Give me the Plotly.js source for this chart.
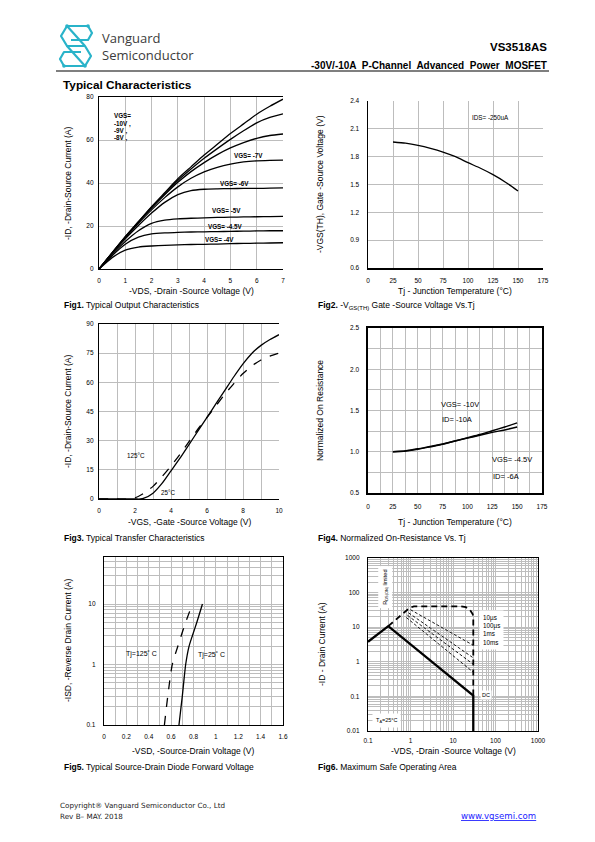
<!DOCTYPE html>
<html><head><meta charset="utf-8">
<script src="https://cdn.plot.ly/plotly-3.0.1.min.js"></script>
<style>
html,body{margin:0;padding:0;background:#fff;}
#wrap{position:relative;width:595px;height:842px;}
#chart{width:595px;height:842px;}
#logo{position:absolute;left:57px;top:23px;}
</style>
</head><body>
<div id="wrap">
<div id="chart"></div>
<svg id="logo" width="38" height="46" viewBox="0 0 38 46">
  <g fill="none" stroke="#29b3c9" stroke-width="2.2" stroke-linejoin="round">
    <path d="M31,3 L10,3 L4,13 L10,23 L28,23 L34,33 L28,43 L7,43"/>
    <path d="M31,3 L35,10 L31,17 L14,17"/>
    <path d="M7,43 L3,36 L7,29 L24,29"/>
    <path d="M10,3 L28,23"/>
    <path d="M10,23 L28,43"/>
  </g>
  <g fill="#29b3c9">
    <circle cx="10" cy="3" r="1.8"/><circle cx="31" cy="3" r="1.8"/>
    <circle cx="7" cy="43" r="1.8"/><circle cx="28" cy="43" r="1.8"/>
  </g>
</svg>
</div>
<script>
// ---------- DATA ----------
// Fig1 Output characteristics
const f1VDS = [0,0.5,1,1.5,2,2.5,3,3.5,4,4.5,5,5.5,6,6.5,7];
const f1ID_10 = [0,7.5,15,22,29,35.5,42,47.5,53,58,63,67.5,72,75.7,79];
const f1ID_9  = [0,7.5,15,22,28.8,35,41.2,46.5,51.5,56,60.3,64.3,68,70.5,72.2];
const f1ID_8  = [0,7.5,14.8,21.7,28.3,34.5,40.3,45.3,49.5,53.2,56.3,58.8,60.8,62.1,62.8];
const f1ID_7  = [0,7.5,14.5,21.2,27.5,33.2,38.2,42.2,45.2,47.3,48.8,49.8,50.3,50.5,50.6];
const f1ID_6  = [0,7.3,14,20.2,26,31,34.6,36.5,37.1,37.3,37.4,37.5,37.5,37.6,37.7];
const f1ID_5  = [0,6.8,12.8,17.8,21.2,22.7,23.3,23.6,23.8,24.0,24.1,24.2,24.3,24.4,24.5];
const f1ID_45 = [0,6.2,11.5,14.8,16.3,16.8,17.0,17.2,17.3,17.4,17.5,17.6,17.7,17.8,17.8];
const f1ID_4  = [0,5.3,8.8,10.2,10.7,11.0,11.2,11.4,11.5,11.6,11.8,11.9,12.0,12.1,12.2];

// Fig2 Vth vs Tj
const f2Tj  = [25,37.5,50,62.5,75,87.5,100,112.5,125,137.5,150];
const f2Vth = [1.958,1.945,1.922,1.89,1.85,1.80,1.735,1.675,1.606,1.525,1.43];

// Fig3 Transfer characteristics
const f3VGS25  = [0,1,2,2.3,2.5,3,3.5,4,4.5,5,5.5,6,6.5,7,7.5,8,8.5,9,9.5,10];
const f3ID25   = [0,0,0,0,0.4,3,8,14.5,21,28,35,42,49,56,63,69.5,75,79,82,84.5];
const f3VGS125 = [0,1,1.6,2,2.5,3,3.5,4,4.5,5,5.5,6,6.5,7,7.5,8,8.5,9,9.5,10];
const f3ID125  = [0,0,0,0.6,3,6.5,11.5,17,23,29.5,36,42,48,54,59.5,64.5,68.5,71.5,73.5,75];

// Fig4 Normalized on-resistance
const f4Tj   = [25,37.5,50,62.5,75,87.5,100,112.5,125,137.5,150];
const f4R10  = [1.0,1.01,1.03,1.06,1.09,1.13,1.17,1.21,1.255,1.30,1.35];
const f4R45  = [1.0,1.01,1.035,1.065,1.095,1.13,1.165,1.20,1.235,1.265,1.30];

// Fig5 Diode forward voltage
const f5VSD25  = [0.67,0.70,0.73,0.76,0.79,0.83,0.88];
const f5VSD125 = [0.54,0.57,0.61,0.66,0.69,0.73,0.79];
const f5ISD    = [0.1,0.3,1,2,3,5,10];

// Fig6 Safe operating area
const f6DCx  = [0.1,0.3,30,30];
const f6DCy  = [3.8,10.7,0.105,0.01];
const f6ENVx = [0.3,0.75,0.95,1.2,15,20,25,29,30,30];
const f6ENVy = [10.7,28,36,40,40,38,32,24,20,0.105];
const f6P10usX = [1.0,30], f6P10usY = [32,3.0];
const f6P100usX = [0.9,30], f6P100usY = [26,1.3];
const f6P1msX = [0.85,30], f6P1msY = [22,0.85];
const f6P10msX = [0.8,30], f6P10msY = [19,0.5];

// ---------- STYLE / LAYOUT ----------
const F = 'Liberation Sans, Arial, sans-serif';
const NARROW = 'Liberation Sans Narrow, Arial Narrow, Liberation Sans, sans-serif';
const WIDE = 'DejaVu Sans, Verdana, sans-serif';
const PX = v => v/595, PY = v => 1 - v/842;
const GRID = '#bdbdbd';

function ax(o){
  return Object.assign({showgrid:true, gridcolor:GRID, gridwidth:1, zeroline:false,
    showline:true, linecolor:'#000', linewidth:1.2, ticks:'', ticklabelstandoff:3,
    tickfont:{family:NARROW,size:6.5,color:'#000'}, fixedrange:true}, o);
}
function logMinor(e0,e1,max){
  const v=[]; for(let e=e0;e<=e1;e++){for(let k=2;k<=9;k++){const t=k*Math.pow(10,e); if(t<=max) v.push(t);}} return v;
}

const blk = {color:'#000', width:1.3};
const traces = [];
function add(x,y,xa,ya,line,shape){traces.push({x:x,y:y,xaxis:xa,yaxis:ya,type:'scatter',mode:'lines',line:Object.assign({shape:shape||'spline',smoothing:0.6},line),hoverinfo:'skip',showlegend:false});}

[f1ID_10,f1ID_9,f1ID_8,f1ID_7,f1ID_6,f1ID_5,f1ID_45,f1ID_4].forEach(s=>add(f1VDS,s,'x','y',blk));
add(f2Tj,f2Vth,'x2','y2',blk);
add(f3VGS25,f3ID25,'x3','y3',blk);
add(f3VGS125,f3ID125,'x3','y3',{color:'#000',width:1.3,dash:'dash'});
add(f4Tj,f4R10,'x4','y4',{color:'#000',width:1.5});
add(f4Tj,f4R45,'x4','y4',{color:'#000',width:1.5});
add(f5VSD25,f5ISD,'x5','y5',blk);
add(f5VSD125,f5ISD,'x5','y5',{color:'#000',width:1.3,dash:'dash'});
add(f6DCx,f6DCy,'x6','y6',{color:'#000',width:2.3},'linear');
add(f6ENVx,f6ENVy,'x6','y6',{color:'#000',width:1.8,dash:'6px,4px'},'linear');
[[f6P10usX,f6P10usY],[f6P100usX,f6P100usY],[f6P1msX,f6P1msY],[f6P10msX,f6P10msY]].forEach(p=>add(p[0],p[1],'x6','y6',{color:'#000',width:0.9,dash:'3px,2px'},'linear'));

const layout = {
  width:595, height:842, margin:{l:0,r:0,t:0,b:0}, paper_bgcolor:'#fff', plot_bgcolor:'#fff',
  showlegend:false, font:{family:F,color:'#000'},
  xaxis: ax({domain:[PX(99),PX(283)], range:[0,7], dtick:1, anchor:'y', mirror:true, ticklabelstandoff:5}),
  yaxis: ax({domain:[PY(269),PY(97)], range:[0,80], dtick:20, anchor:'x'}),
  xaxis2: ax({domain:[PX(368),PX(543)], range:[0,175], dtick:25, anchor:'y2', linewidth:1.5, ticklabelstandoff:6}),
  yaxis2: ax({domain:[PY(268),PY(101)], range:[0.6,2.4], tick0:0.6, dtick:0.3, anchor:'x2', linewidth:1.5, ticklabelstandoff:6}),
  xaxis3: ax({domain:[PX(99),PX(279)], range:[0,10], dtick:2, anchor:'y3', mirror:true, ticklabelstandoff:5,
    minor:{dtick:1, showgrid:true, gridcolor:GRID}}),
  yaxis3: ax({domain:[PY(499),PY(324)], range:[0,90], dtick:15, anchor:'x3'}),
  xaxis4: ax({domain:[PX(368),PX(542)], range:[0,175], dtick:25, anchor:'y4', mirror:true, linewidth:1.6, ticklabelstandoff:7,
    minor:{dtick:12.5, showgrid:true, gridcolor:GRID}}),
  yaxis4: ax({domain:[PY(493),PY(328)], range:[0.5,2.5], dtick:0.5, tickformat:'.1f', anchor:'x4', mirror:true, linewidth:1.6, ticklabelstandoff:6,
    minor:{dtick:0.25, showgrid:true, gridcolor:GRID}}),
  xaxis5: ax({domain:[PX(104),PX(283)], range:[0,1.6], dtick:0.2, anchor:'y5', mirror:true, ticklabelstandoff:5,
    minor:{dtick:0.1, showgrid:true, gridcolor:GRID}}),
  yaxis5: ax({domain:[PY(725),PY(557)], type:'log', range:[-1,Math.log10(60)], tickmode:'array', tickvals:[0.1,1,10], ticktext:['0.1','1','10'],
    anchor:'x5', mirror:true, ticklabelstandoff:6,
    minor:{tickmode:'array', tickvals:logMinor(-1,1,60), showgrid:true, gridcolor:GRID}}),
  xaxis6: ax({domain:[PX(368),PX(538)], type:'log', range:[-1,3], tickmode:'array', tickvals:[0.1,1,10,100,1000], ticktext:['0.1','1','10','100','1000'],
    anchor:'y6', mirror:true, ticklabelstandoff:3,
    minor:{tickmode:'array', tickvals:logMinor(-1,2,1000), showgrid:true, gridcolor:GRID}}),
  yaxis6: ax({domain:[PY(731),PY(558)], type:'log', range:[-2,3], tickmode:'array', tickvals:[0.01,0.1,1,10,100,1000], ticktext:['0.01','0.1','1','10','100','1000'],
    anchor:'x6', mirror:true, ticklabelstandoff:6,
    minor:{tickmode:'array', tickvals:logMinor(-2,2,1000), showgrid:true, gridcolor:GRID}}),
  shapes:[
    {type:'line', xref:'paper', yref:'paper', x0:PX(56), x1:PX(549), y0:PY(71), y1:PY(71), line:{color:'#000', width:1.2}}
  ],
  annotations:[]
};

const A = layout.annotations;
function pt(text,x,y,o){A.push(Object.assign({text:text,xref:'paper',yref:'paper',x:PX(x),y:PY(y),showarrow:false,xanchor:'left',yanchor:'middle',font:{family:F,size:8.5,color:'#000'}},o||{}));}
function dt(text,x,y,xr,yr,o){A.push(Object.assign({text:text,xref:xr,yref:yr,x:x,y:y,showarrow:false,xanchor:'center',yanchor:'middle',font:{family:NARROW,size:6.3,color:'#000'}},o||{}));}

// header
pt('Vanguard',101,38,{borderpad:0,font:{family:'Open Sans, Noto Sans, sans-serif',size:13,color:'#3c3c3c'}});
pt('Semiconductor',101,55,{borderpad:0,font:{family:'Open Sans, Noto Sans, sans-serif',size:13,color:'#3c3c3c'}});
pt('<b>VS3518AS</b>',549,47,{xanchor:'right',font:{family:F,size:11.5,color:'#000'}});
pt('<b>-30V/-10A  P-Channel  Advanced  Power  MOSFET</b>',549,65,{xanchor:'right',font:{family:F,size:10,color:'#000'}});
pt('<b>Typical Characteristics</b>',61,85,{font:{family:F,size:11.8,color:'#000'}});

// axis titles
const vt = (t,x,y)=>pt(t,x,y,{xanchor:'center',textangle:-90,font:{family:F,size:8.5,color:'#000'}});
const ht = (t,x,y)=>pt(t,x,y,{xanchor:'center'});
vt('-ID, -Drain-Source Current (A)',68,183); ht('-VDS, -Drain -Source Voltage (V)',191,291);
vt('-VGS(TH), Gate -Source Voltage (V)',320,184); ht('Tj - Junction Temperature (°C)',455,291);
vt('-ID, -Drain-Source Current (A)',68,411); ht('-VGS, -Gate -Source Voltage (V)',189,522);
vt('Normalized On Resistance',320,411); ht('Tj - Junction Temperature (°C)',455,522);
vt('-ISD, -Reverse Drain Current (A)',68,641); ht('-VSD, -Source-Drain Voltage (V)',193,751);
vt('-ID - Drain Current (A)',322,644); ht('-VDS, -Drain -Source Voltage (V)',453,751);

// captions
pt('<b>Fig1.</b> Typical Output Characteristics',62,305);
pt('<b>Fig2.</b> -V<sub>GS(TH)</sub> Gate -Source Voltage Vs.Tj',316,305);
pt('<b>Fig3.</b> Typical Transfer Characteristics',62,538);
pt('<b>Fig4.</b> Normalized On-Resistance Vs. Tj',316,538);
pt('<b>Fig5.</b> Typical Source-Drain Diode Forward Voltage',62,767);
pt('<b>Fig6.</b> Maximum Safe Operating Area',316,767);

// footer
pt('Copyright® Vanguard Semiconductor Co., Ltd',58,805,{font:{family:WIDE,size:7.2,color:'#222'}});
pt('Rev B– MAY. 2018',58,816,{font:{family:WIDE,size:7.2,color:'#222'}});
pt('<u>www.vgsemi.com</u>',538,816,{xanchor:'right',font:{family:WIDE,size:8.6,color:'#1a1aff'}});

// Fig1 labels
dt('<b>VGS=</b>',0.48,71.3,'x','y',{xanchor:'left'});
dt('<b>-10V ,</b>',0.48,67.4,'x','y',{xanchor:'left'});
dt('<b>-9V ,</b>',0.48,64.3,'x','y',{xanchor:'left'});
dt('<b>-8V ,</b>',0.48,61,'x','y',{xanchor:'left'});
dt('<b>VGS= -7V</b>',5.7,53,'x','y');
dt('<b>VGS= -6V</b>',5.17,39.9,'x','y');
dt('<b>VGS= -5V</b>',4.85,27,'x','y');
dt('<b>VGS= -4.5V</b>',4.82,20,'x','y');
dt('<b>VGS= -4V</b>',4.57,13.5,'x','y');
// Fig2
dt('IDS= -250uA',122,2.224,'x2','y2');
// Fig3
dt('125°C',2.05,22.6,'x3','y3');
dt('25°C',3.85,3.2,'x3','y3');
// Fig4
dt('VGS= -10V',71,1.575,'x4','y4',{xanchor:'left',font:{family:NARROW,size:7.5,color:'#000'}});
dt('ID= -10A',72,1.385,'x4','y4',{xanchor:'left',font:{family:NARROW,size:7.5,color:'#000'}});
dt('VGS= -4.5V',123,0.9,'x4','y4',{xanchor:'left',font:{family:NARROW,size:7.5,color:'#000'}});
dt('ID= -6A',124,0.706,'x4','y4',{xanchor:'left',font:{family:NARROW,size:7.5,color:'#000'}});
// Fig5 (log y: exponent units)
dt('Tj=125˚ C',0.335,0.178,'x5','y5',{font:{family:NARROW,size:7,color:'#000'}});
dt('Tj=25˚ C',0.96,0.15,'x5','y5',{font:{family:NARROW,size:7,color:'#000'}});
// Fig6 (log x,y: exponent units)
dt('10µs<br>100µs<br>1ms<br>10ms',1.62,0.91,'x6','y6',{xanchor:'left',align:'left',bgcolor:'#fff',borderpad:3,font:{family:NARROW,size:6.3,color:'#000'}});
dt('DC',1.64,-0.96,'x6','y6',{xanchor:'left',bgcolor:'#fff',font:{family:NARROW,size:5.5,color:'#000'}});
dt('R<sub>DS(ON)</sub> limited',-0.584,2.163,'x6','y6',{textangle:-90,bgcolor:'#fff',borderpad:3,font:{family:NARROW,size:5.5,color:'#000'}});
dt('T<sub>A</sub>=25°C',-0.56,-1.683,'x6','y6',{bgcolor:'#fff',borderpad:3,font:{family:NARROW,size:5.5,color:'#000'}});

Plotly.newPlot('chart', traces, layout, {staticPlot:true, displayModeBar:false});
</script>
</body></html>
